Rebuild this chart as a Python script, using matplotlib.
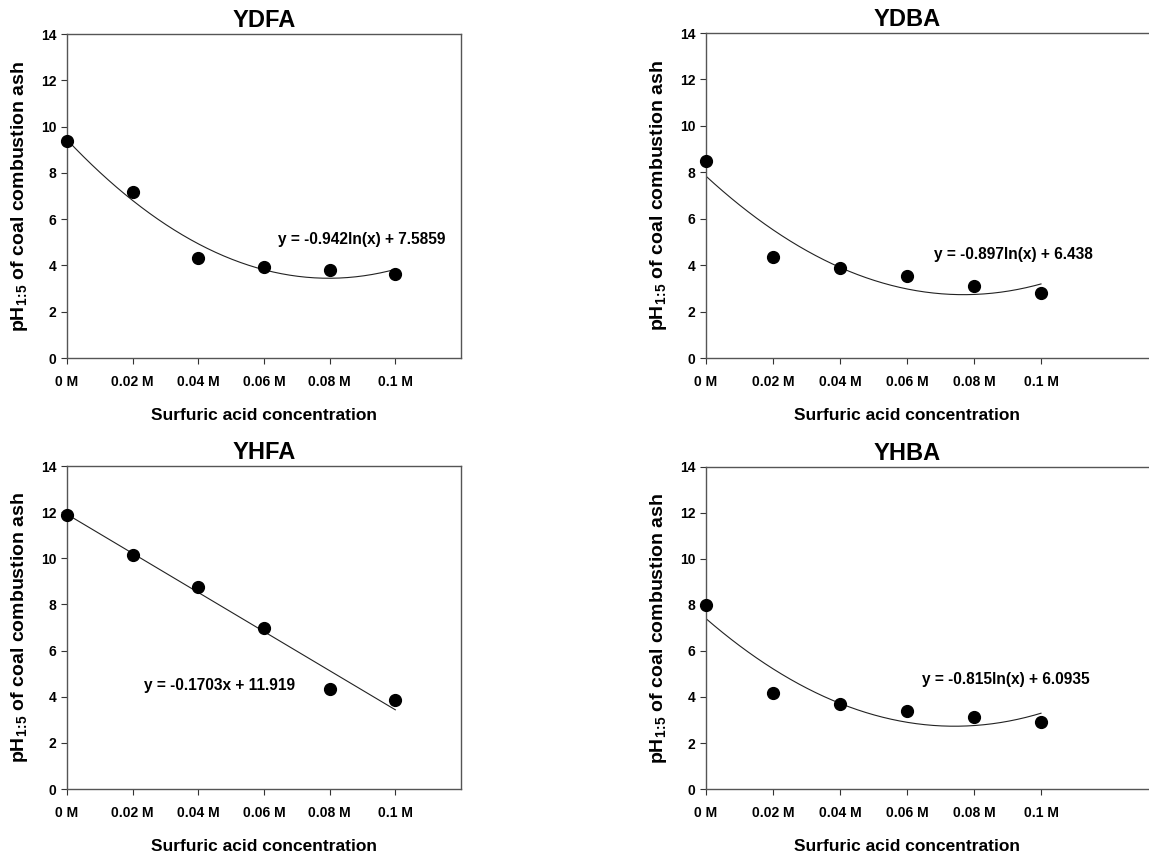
import numpy as np
import matplotlib
matplotlib.use("Agg")
import matplotlib.pyplot as plt

plt.rcParams['font.family'] = ['Liberation Sans', 'DejaVu Sans']
plt.rcParams['font.weight'] = 'bold'
plt.rcParams['mathtext.fontset'] = 'custom'
plt.rcParams['mathtext.rm'] = 'Liberation Sans:bold'
plt.rcParams['mathtext.bf'] = 'Liberation Sans:bold'
plt.rcParams['mathtext.default'] = 'bf'

# Data
conc = [0.0, 0.02, 0.04, 0.06, 0.08, 0.10]
tick_labels = ["0 M", "0.02 M", "0.04 M", "0.06 M", "0.08 M", "0.1 M"]
titles = ["YDFA", "YDBA", "YHFA", "YHBA"]
ydfa = [9.38, 7.18, 4.31, 3.95, 3.80, 3.64]
ydba = [8.49, 4.35, 3.87, 3.54, 3.11, 2.80]
yhfa = [11.89, 10.16, 8.76, 7.00, 4.34, 3.87]
yhba = [8.00, 4.17, 3.70, 3.38, 3.13, 2.93]
equations = ["y = -0.942ln(x) + 7.5859", "y = -0.897ln(x) + 6.438",
             "y = -0.1703x + 11.919", "y = -0.815ln(x) + 6.0935"]
fit_degree = [2, 2, 1, 2]
eq_pos = [(0.0644, 5.1), (0.068, 4.45), (0.0235, 4.5), (0.0644, 4.75)]

series = [ydfa, ydba, yhfa, yhba]

fig = plt.figure(figsize=(11.49, 8.55), dpi=100)
W, H = 1149, 855
# axes pixel boxes: left, top, right, bottom
boxes = [(67, 34, 461, 358), (706, 33, 1175, 358),
         (67, 466, 461, 789), (706, 467, 1175, 789)]
xmaxes = [0.12, 0.14, 0.12, 0.14]

for i in range(4):
    l, t, r, b = boxes[i]
    ax = fig.add_axes([l / W, 1 - b / H, (r - l) / W, (b - t) / H])
    x = np.array(conc)
    y = np.array(series[i])
    coef = np.polyfit(x, y, fit_degree[i])
    xf = np.linspace(0, 0.1, 200)
    ax.plot(xf, np.polyval(coef, xf), color='#222222', lw=0.8, zorder=2)
    ax.plot(x, y, 'o', color='black', markersize=8.5, zorder=3, clip_on=False)
    ax.set_xlim(0, xmaxes[i])
    ax.set_ylim(0, 14)
    ax.set_xticks(conc)
    ax.set_xticklabels(tick_labels)
    ax.set_yticks(range(0, 15, 2))
    ax.tick_params(axis='both', direction='out', length=4, width=0.8,
                   labelsize=10, top=False, right=False, color='#333333')
    ax.tick_params(axis='x', pad=8)
    for lab in ax.get_xticklabels() + ax.get_yticklabels():
        lab.set_fontweight('bold')
    for s in ax.spines.values():
        s.set_linewidth(1.0)
        s.set_color('#555555')
    # centre of the nominal 0..0.12 range, in axes fraction
    cx = 0.06 / xmaxes[i]
    ax.set_title(titles[i], fontsize=17, fontweight='bold', pad=5, x=cx)
    ax.set_xlabel("Surfuric acid concentration", fontsize=12.5,
                  fontweight='bold', labelpad=14, x=cx, ha='center')
    ax.set_ylabel(r"pH$_{1\!:\!5}$ of coal combustion ash", fontsize=14,
                  fontweight='bold', labelpad=8)
    ex, ey = eq_pos[i]
    ax.text(ex, ey, equations[i], fontsize=11.2, fontweight='bold',
            ha='left', va='center')

fig.savefig("out.png", dpi=100)
